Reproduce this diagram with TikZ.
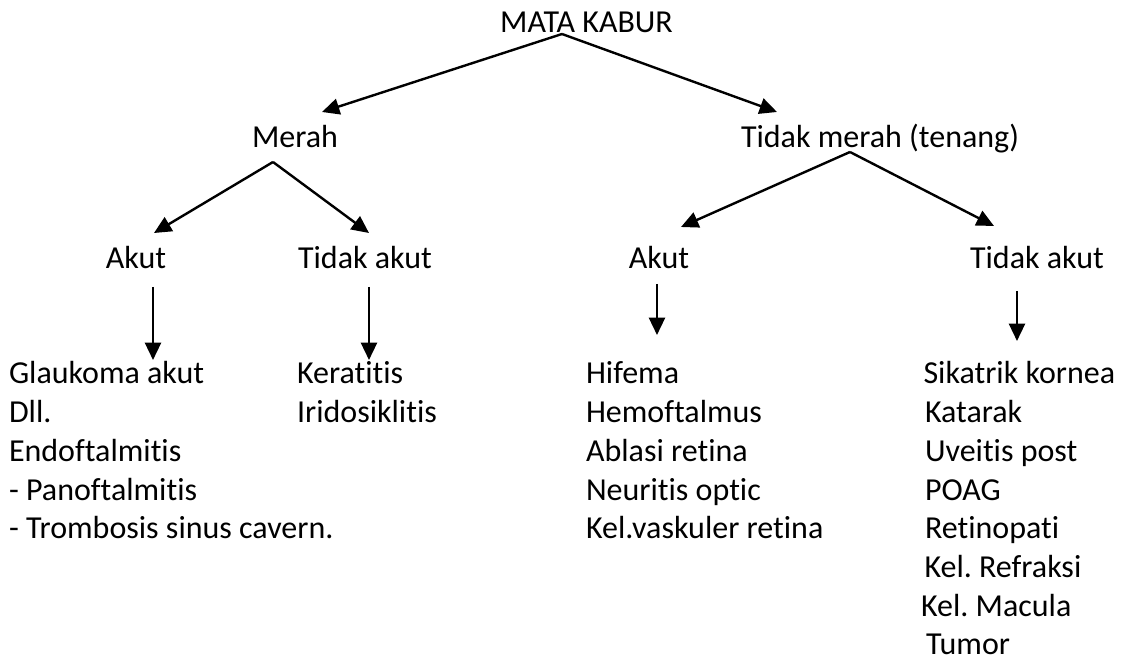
\documentclass[tikz,border=0pt]{standalone}
\usepackage{fontspec}
\setmainfont{Carlito}[Ligatures={NoCommon}]
\usetikzlibrary{arrows.meta}
\frenchspacing
\begin{document}
\begin{tikzpicture}[x=0.375pt,y=-0.375pt,
  lbl/.style={inner sep=0pt, anchor=base, font=\fontsize{12pt}{14.625pt}\selectfont},
  item/.style={inner sep=0pt, anchor=base west, font=\fontsize{12pt}{14.625pt}\selectfont},
  arr/.style={line width=0.9pt, line join=miter, -{Triangle[width=6pt,length=6.5pt]}}]
\useasboundingbox (0,0) rectangle (1124,659);

% headings
\node[lbl] (mk) at (586.5,33) {MATA KABUR};
\node[lbl] (merah) at (295,148) {Merah};
\node[lbl] (tm) at (880,148) {Tidak merah (tenang)};
\node[lbl] (ak1) at (136,269) {Akut};
\node[lbl] (ta1) at (365,269) {Tidak akut};
\node[lbl] (ak2) at (659,269) {Akut};
\node[lbl] (ta2) at (1037,269) {Tidak akut};

% connector end points
\coordinate (mk-o) at (562,34);
\coordinate (merah-i) at (322,112);
\coordinate (tm-i) at (777,112);
\coordinate (merah-o) at (273,162);
\coordinate (ak1-i) at (154,233);
\coordinate (ta1-i) at (369,233);
\coordinate (tm-o) at (850,152);
\coordinate (ak2-i) at (681,227);
\coordinate (ta2-i) at (994,226);
\coordinate (ak1-o) at (153,287);
\coordinate (l1-i) at (153,360);
\coordinate (ta1-o) at (369,287);
\coordinate (l2-i) at (369,360);
\coordinate (ak2-o) at (657,284);
\coordinate (l3-i) at (657,335);
\coordinate (ta2-o) at (1017,291);
\coordinate (l4-i) at (1017,341);

\draw[arr] (mk-o) -- (merah-i);
\draw[arr] (mk-o) -- (tm-i);
\draw[arr] (merah-o) -- (ak1-i);
\draw[arr] (merah-o) -- (ta1-i);
\draw[arr] (tm-o) -- (ak2-i);
\draw[arr] (tm-o) -- (ta2-i);
\draw[arr] (ak1-o) -- (l1-i);
\draw[arr] (ta1-o) -- (l2-i);
\draw[arr] (ak2-o) -- (l3-i);
\draw[arr] (ta2-o) -- (l4-i);

% lists
\node[item] (a1) at (8.5,384) {Glaukoma akut};
\node[item] (a2) at (8.5,422.7) {Dll.};
\node[item] (a3) at (8.5,461.4) {Endoftalmitis};
\node[item] (a4) at (8.5,500.1) {- Panoftalmitis};
\node[item] (a5) at (8.5,538.8) {- Trombosis sinus cavern.};

\node[item] (b1) at (296.5,384) {Keratitis};
\node[item] (b2) at (296.5,422.7) {Iridosiklitis};

\node[item] (c1) at (585.5,384) {Hifema};
\node[item] (c2) at (585.5,422.7) {Hemoftalmus};
\node[item] (c3) at (585.5,461.4) {Ablasi retina};
\node[item] (c4) at (585.5,500.1) {Neuritis optic};
\node[item] (c5) at (585.5,538.8) {Kel.vaskuler retina};

\node[item] (d1) at (923,384) {Sikatrik kornea};
\node[item] (d2) at (924.5,422.7) {Katarak};
\node[item] (d3) at (924.5,461.4) {Uveitis post};
\node[item] (d4) at (924.5,500.1) {POAG};
\node[item] (d5) at (924.5,538.8) {Retinopati};
\node[item] (d6) at (924,577.5) {Kel. Refraksi};
\node[item] (d7) at (920.5,616.2) {Kel. Macula};
\node[item] (d8) at (925.5,654.5) {Tumor};
\end{tikzpicture}
\end{document}
